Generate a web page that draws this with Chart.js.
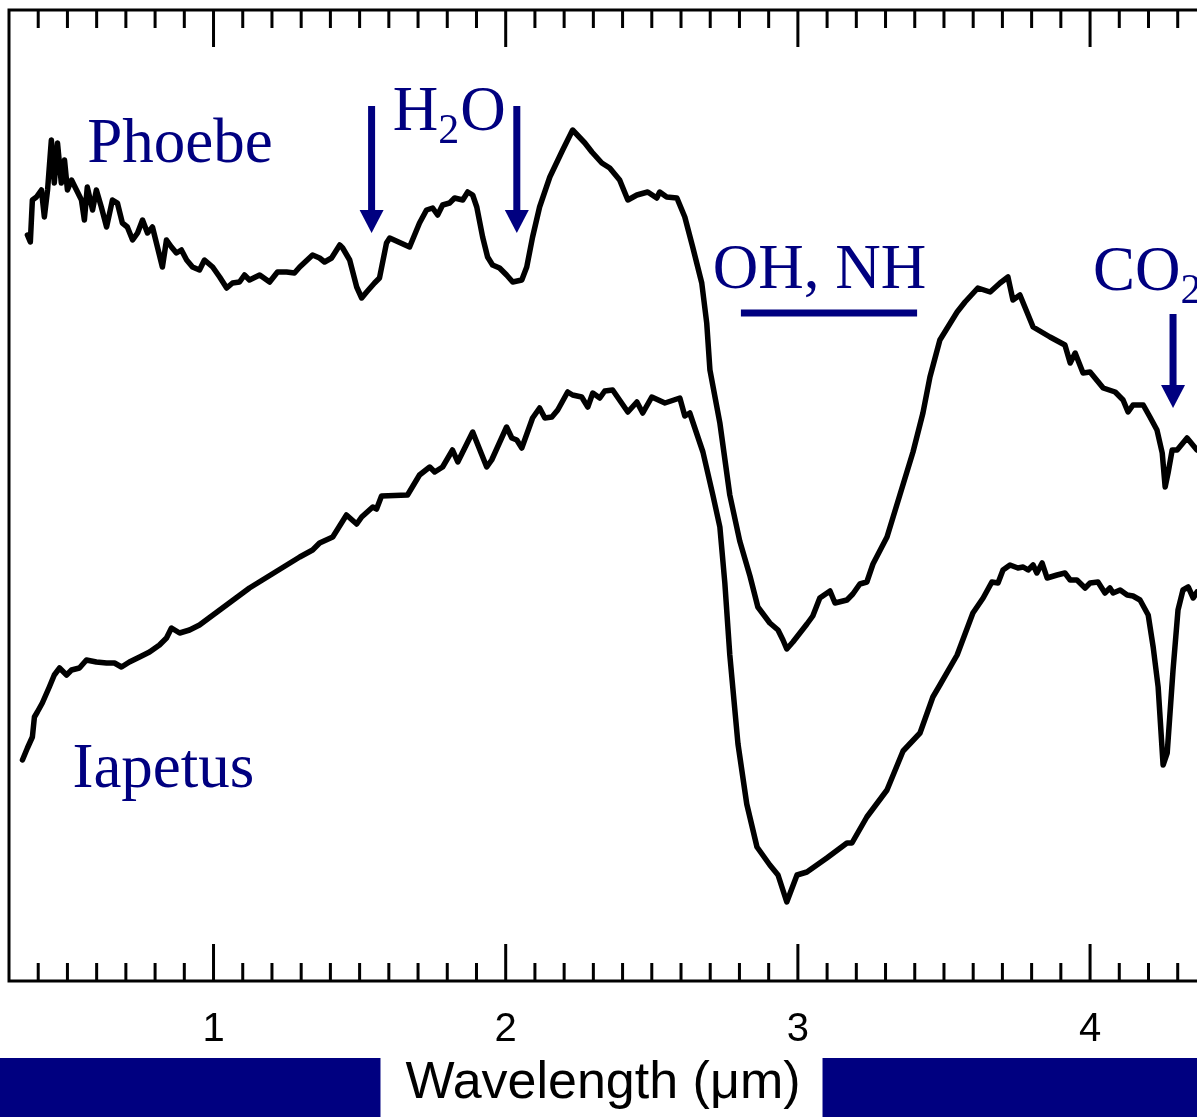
<!DOCTYPE html>
<html>
<head>
<meta charset="utf-8">
<script src="https://cdn.jsdelivr.net/npm/chart.js@4.4.1/dist/chart.umd.min.js"></script>
<style>
  html, body { margin: 0; padding: 0; background: #fff; overflow: hidden; }
  canvas { display: block; }
</style>
</head>
<body>
<canvas id="spectra" width="1197" height="1117"></canvas>
<script>
// Phoebe spectrum: wavelength (um) and relative reflectance (offset, arbitrary units)
const phoebeWave = [
  0.363, 0.373, 0.380, 0.394, 0.411, 0.421, 0.432, 0.445, 0.455, 0.466,
  0.479, 0.490, 0.500, 0.514, 0.531, 0.548, 0.558, 0.568, 0.586, 0.599,
  0.616, 0.634, 0.654, 0.671, 0.688, 0.705, 0.723, 0.740, 0.757, 0.774,
  0.791, 0.808, 0.825, 0.839, 0.856, 0.873, 0.890, 0.908, 0.928, 0.952,
  0.969, 0.997, 1.021, 1.045, 1.065, 1.089, 1.106, 1.123, 1.158, 1.192,
  1.219, 1.250, 1.277, 1.295, 1.339, 1.363, 1.380, 1.404, 1.432, 1.442,
  1.466, 1.490, 1.507, 1.524, 1.551, 1.568, 1.592, 1.603, 1.671, 1.705,
  1.729, 1.750, 1.767, 1.784, 1.808, 1.825, 1.853, 1.870, 1.887, 1.901,
  1.921, 1.938, 1.955, 1.979, 2.003, 2.024, 2.055, 2.072, 2.092, 2.116,
  2.151, 2.195, 2.229, 2.271, 2.295, 2.329, 2.356, 2.390, 2.418, 2.449,
  2.486, 2.517, 2.527, 2.551, 2.586, 2.613, 2.640, 2.671, 2.688, 2.699,
  2.733, 2.767, 2.801, 2.836, 2.863, 2.904, 2.932, 2.949, 2.962, 2.983,
  3.031, 3.051, 3.075, 3.110, 3.127, 3.168, 3.188, 3.212, 3.236, 3.257,
  3.305, 3.349, 3.394, 3.428, 3.452, 3.486, 3.545, 3.572, 3.616, 3.658,
  3.692, 3.719, 3.736, 3.760, 3.805, 3.863, 3.914, 3.932, 3.949, 3.976,
  4.000, 4.045, 4.086, 4.113, 4.130, 4.147, 4.182, 4.205, 4.229, 4.247,
  4.257, 4.267, 4.281, 4.298, 4.332, 4.366
];
const phoebeRefl = [
  0.746, 0.739, 0.781, 0.784, 0.791, 0.764, 0.791, 0.841, 0.798, 0.838,
  0.798, 0.821, 0.791, 0.801, 0.791, 0.781, 0.761, 0.794, 0.771, 0.791,
  0.774, 0.754, 0.781, 0.778, 0.758, 0.754, 0.741, 0.748, 0.761, 0.748,
  0.754, 0.734, 0.714, 0.741, 0.734, 0.728, 0.731, 0.721, 0.714, 0.711,
  0.721, 0.714, 0.704, 0.693, 0.698, 0.699, 0.706, 0.701, 0.706, 0.699,
  0.709, 0.709, 0.708, 0.714, 0.726, 0.723, 0.719, 0.723, 0.736, 0.733,
  0.721, 0.694, 0.683, 0.689, 0.698, 0.703, 0.738, 0.743, 0.734, 0.758,
  0.771, 0.773, 0.766, 0.776, 0.778, 0.783, 0.781, 0.789, 0.786, 0.774,
  0.744, 0.724, 0.716, 0.713, 0.706, 0.699, 0.701, 0.714, 0.744, 0.774,
  0.804, 0.831, 0.851, 0.838, 0.829, 0.818, 0.813, 0.801, 0.781, 0.786,
  0.789, 0.783, 0.789, 0.784, 0.783, 0.764, 0.734, 0.698, 0.658, 0.611,
  0.558, 0.486, 0.440, 0.405, 0.374, 0.358, 0.351, 0.341, 0.332, 0.339,
  0.357, 0.365, 0.383, 0.390, 0.378, 0.381, 0.387, 0.397, 0.399, 0.417,
  0.444, 0.486, 0.529, 0.568, 0.604, 0.641, 0.669, 0.679, 0.693, 0.689,
  0.698, 0.704, 0.681, 0.686, 0.654, 0.644, 0.636, 0.618, 0.628, 0.608,
  0.609, 0.593, 0.589, 0.581, 0.569, 0.576, 0.576, 0.564, 0.551, 0.528,
  0.494, 0.508, 0.531, 0.531, 0.543, 0.531
];

// Iapetus spectrum
const iapetusWave = [
  0.346, 0.363, 0.380, 0.387, 0.397, 0.414, 0.438, 0.455, 0.473, 0.497,
  0.514, 0.541, 0.565, 0.599, 0.634, 0.661, 0.685, 0.712, 0.747, 0.781,
  0.815, 0.839, 0.856, 0.884, 0.918, 0.952, 1.123, 1.295, 1.339, 1.363,
  1.408, 1.455, 1.490, 1.507, 1.545, 1.558, 1.575, 1.664, 1.705, 1.740,
  1.757, 1.784, 1.818, 1.836, 1.887, 1.935, 1.952, 2.003, 2.021, 2.038,
  2.055, 2.092, 2.116, 2.134, 2.158, 2.178, 2.212, 2.229, 2.260, 2.281,
  2.298, 2.322, 2.339, 2.366, 2.418, 2.449, 2.469, 2.500, 2.545, 2.596,
  2.613, 2.630, 2.675, 2.709, 2.733, 2.750, 2.767, 2.795, 2.825, 2.860,
  2.904, 2.932, 2.962, 2.997, 3.031, 3.099, 3.168, 3.185, 3.236, 3.305,
  3.360, 3.418, 3.462, 3.486, 3.545, 3.599, 3.634, 3.664, 3.685, 3.702,
  3.726, 3.753, 3.771, 3.788, 3.805, 3.818, 3.836, 3.853, 3.887, 3.914,
  3.932, 3.955, 3.983, 4.000, 4.027, 4.051, 4.068, 4.079, 4.103, 4.127,
  4.147, 4.171, 4.199, 4.216, 4.233, 4.250, 4.264, 4.284, 4.301, 4.318,
  4.336, 4.353, 4.366
];
const iapetusRefl = [
  0.221, 0.233, 0.244, 0.264, 0.269, 0.278, 0.294, 0.306, 0.313, 0.306,
  0.311, 0.313, 0.321, 0.319, 0.318, 0.318, 0.314, 0.319, 0.324, 0.329,
  0.336, 0.343, 0.353, 0.348, 0.351, 0.356, 0.393, 0.424, 0.431, 0.438,
  0.444, 0.466, 0.457, 0.464, 0.474, 0.472, 0.485, 0.486, 0.506, 0.514,
  0.509, 0.514, 0.531, 0.519, 0.549, 0.514, 0.521, 0.554, 0.543, 0.541,
  0.533, 0.563, 0.573, 0.563, 0.564, 0.571, 0.589, 0.586, 0.584, 0.574,
  0.588, 0.583, 0.590, 0.591, 0.569, 0.579, 0.568, 0.584, 0.578, 0.583,
  0.565, 0.568, 0.529, 0.486, 0.454, 0.398, 0.326, 0.237, 0.177, 0.134,
  0.116, 0.106, 0.079, 0.106, 0.109, 0.123, 0.138, 0.138, 0.164, 0.191,
  0.230, 0.248, 0.284, 0.296, 0.326, 0.368, 0.383, 0.399, 0.398, 0.411,
  0.416, 0.413, 0.414, 0.411, 0.416, 0.408, 0.418, 0.403, 0.406, 0.408,
  0.401, 0.401, 0.393, 0.398, 0.399, 0.388, 0.393, 0.388, 0.391, 0.386,
  0.385, 0.381, 0.366, 0.334, 0.294, 0.216, 0.228, 0.311, 0.371, 0.391,
  0.394, 0.383, 0.389
];

const majorTicks = [1, 2, 3, 4];
const xRange = [0.3, 4.366];
const yRange = [0, 0.971];

const NAVY = '#000080';
const SERIF = '"Liberation Serif", "Times New Roman", serif';
const SANS = '"Liberation Sans", Arial, Helvetica, sans-serif';
const titleText = 'Wavelength (\u03bcm)';
const titleFont = { family: SANS, size: 52, lineHeight: 1 };

// band labels; each piece is [text, isSubscript]
const notes = [
  { parts: [['Phoebe', false]], x: 0.568, y: 0.819 },
  { parts: [['Iapetus', false]], x: 0.517, y: 0.194 },
  { parts: [['H', false], ['2', true], ['O', false]], x: 1.613, y: 0.851 },
  { parts: [['OH, NH', false]], x: 2.709, y: 0.693 },
  { parts: [['CO', false], ['2', true]], x: 4.010, y: 0.691 }
];
const arrows = [
  { x: 1.541, from: 0.875, to: 0.748 },
  { x: 2.038, from: 0.875, to: 0.748 },
  { x: 4.284, from: 0.667, to: 0.573 }
];
const bands = [{ from: 2.805, to: 3.408, y: 0.668 }];

function toPoints(xs, ys) {
  return xs.map((x, i) => ({ x, y: ys[i] }));
}

const spectraDecor = {
  id: 'spectraDecor',
  beforeDraw(chart) {
    // navy strips to either side of the axis title
    const { ctx } = chart;
    const xs = chart.scales.x;
    ctx.save();
    ctx.font = `${titleFont.size}px ${titleFont.family}`;
    const w = ctx.measureText(titleText).width;
    const cx = (xs.left + xs.right) / 2;
    ctx.fillStyle = NAVY;
    ctx.fillRect(0, 1058, cx - w / 2 - 25, chart.height - 1058);
    ctx.fillRect(cx + w / 2 + 22, 1058, chart.width, chart.height - 1058);
    ctx.restore();
  },
  beforeDatasetsDraw(chart) {
    const { ctx, chartArea } = chart;
    const { left, right, top, bottom } = chartArea;
    const xs = chart.scales.x;
    ctx.save();
    ctx.strokeStyle = '#000';
    ctx.lineWidth = 3;
    ctx.lineCap = 'butt';
    ctx.beginPath();
    ctx.moveTo(left, bottom);
    ctx.lineTo(left, top);
    ctx.lineTo(right + 2, top);
    ctx.moveTo(left - 1.5, bottom);
    ctx.lineTo(right + 2, bottom);
    ctx.stroke();
    // inward ticks on top and bottom, every 0.1 um
    ctx.beginPath();
    for (let t = 4; t <= 43; t++) {
      const px = xs.getPixelForValue(t / 10);
      const len = t % 10 === 0 ? 37 : 18;
      ctx.moveTo(px, top);
      ctx.lineTo(px, top + len);
      ctx.moveTo(px, bottom);
      ctx.lineTo(px, bottom - len);
    }
    ctx.stroke();
    ctx.restore();
  },
  afterDatasetsDraw(chart) {
    const { ctx } = chart;
    const xs = chart.scales.x;
    const ys = chart.scales.y;
    ctx.save();
    ctx.fillStyle = NAVY;
    ctx.textBaseline = 'alphabetic';
    ctx.textAlign = 'left';
    notes.forEach(n => {
      let px = xs.getPixelForValue(n.x);
      const py = ys.getPixelForValue(n.y);
      n.parts.forEach(([txt, sub]) => {
        ctx.font = sub ? `42px ${SERIF}` : `63px ${SERIF}`;
        ctx.fillText(txt, px, sub ? py + 13 : py);
        px += ctx.measureText(txt).width + (sub ? 1 : 0);
      });
    });
    arrows.forEach(a => {
      const px = xs.getPixelForValue(a.x);
      const y0 = ys.getPixelForValue(a.from);
      const y1 = ys.getPixelForValue(a.to);
      ctx.fillRect(px - 3.5, y0, 7, y1 - y0 - 20);
      ctx.beginPath();
      ctx.moveTo(px - 12, y1 - 23);
      ctx.lineTo(px + 12, y1 - 23);
      ctx.lineTo(px, y1);
      ctx.closePath();
      ctx.fill();
    });
    bands.forEach(b => {
      const x0 = xs.getPixelForValue(b.from);
      const x1 = xs.getPixelForValue(b.to);
      const py = ys.getPixelForValue(b.y);
      ctx.fillRect(x0, py - 3.5, x1 - x0, 7);
    });
    ctx.restore();
  }
};

const lineStyle = {
  borderColor: '#000',
  borderWidth: 5.5,
  pointRadius: 0,
  showLine: true,
  tension: 0,
  borderJoinStyle: 'round',
  borderCapStyle: 'round'
};

new Chart(document.getElementById('spectra'), {
  type: 'scatter',
  data: {
    datasets: [
      { label: 'Phoebe', data: toPoints(phoebeWave, phoebeRefl), ...lineStyle },
      { label: 'Iapetus', data: toPoints(iapetusWave, iapetusRefl), ...lineStyle }
    ]
  },
  options: {
    responsive: false,
    animation: false,
    layout: { padding: { left: 9, top: 10, right: 0, bottom: 0 } },
    plugins: { legend: { display: false }, tooltip: { enabled: false } },
    scales: {
      x: {
        type: 'linear',
        min: xRange[0],
        max: xRange[1],
        grid: { display: false },
        border: { display: false },
        afterBuildTicks: scale => {
          scale.ticks = majorTicks.map(v => ({ value: v }));
        },
        afterFit: scale => { scale.height = 136; },
        ticks: {
          color: '#000',
          padding: 17,
          maxRotation: 0,
          font: { family: SANS, size: 40 }
        },
        title: {
          display: true,
          text: titleText,
          color: '#000',
          font: titleFont,
          padding: { top: 0, bottom: 7 }
        }
      },
      y: {
        display: false,
        min: yRange[0],
        max: yRange[1]
      }
    }
  },
  plugins: [spectraDecor]
});
</script>
</body>
</html>
